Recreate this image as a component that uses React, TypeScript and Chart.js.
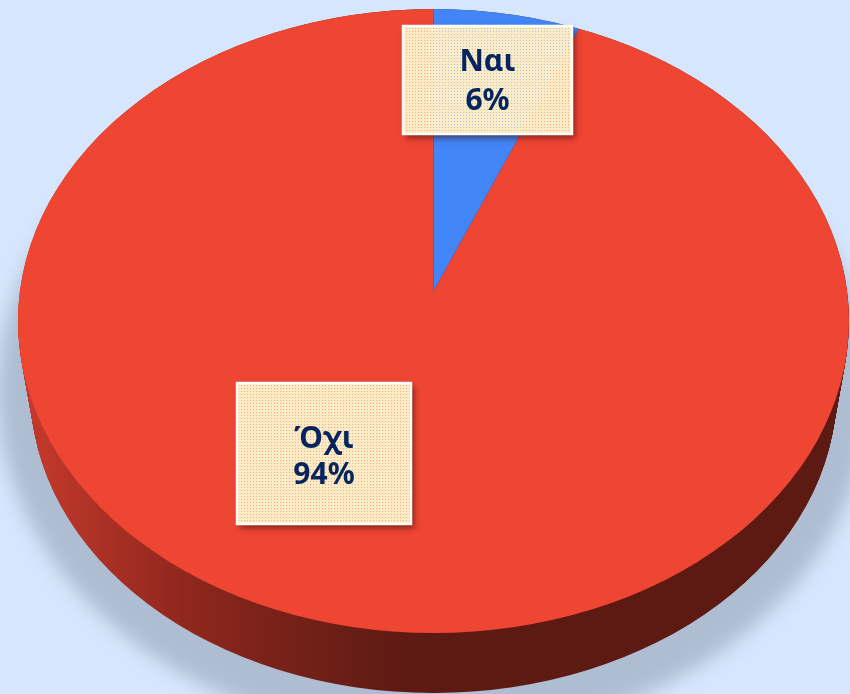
import React, { useEffect, useRef } from "react";
import { Chart, registerables } from "chart.js";

Chart.register(...registerables);

const categories = ["Ναι", "Όχι"];
const seriesValues = [6, 94];
const sliceColors = ["#4285f6", "#ef4533"];

const W = 850;
const H = 694;
const topFace = { x: 433.5, y: 321, rx: 415.5, ry: 312 };
const bottomFace = { x: 433.5, y: 391, rx: 403, ry: 302 };
const apex = { x: 433.5, y: 291, rx: 395, ry: 282, grow: 1.32 };
const labelBoxes = [
  { x: 403, y: 26, w: 169, h: 108, t1: 62, t2: 101 },
  { x: 237, y: 383, w: 174, h: 141, t1: 439, t2: 475 },
];

function ell(ctx: CanvasRenderingContext2D, e: { x: number; y: number; rx: number; ry: number }) {
  ctx.beginPath();
  ctx.ellipse(e.x, e.y, e.rx, e.ry, 0, 0, Math.PI * 2);
}

function makePattern(ctx: CanvasRenderingContext2D) {
  const c = document.createElement("canvas");
  c.width = 3;
  c.height = 3;
  const p = c.getContext("2d")!;
  p.fillStyle = "#fcecc6";
  p.fillRect(0, 0, 3, 3);
  p.clearRect(1, 1, 1, 1);
  p.fillStyle = "rgba(252,236,198,0.6)";
  p.fillRect(1, 1, 1, 1);
  return ctx.createPattern(c, "repeat")!;
}

const piePlugin = {
  id: "tiltedPie",
  beforeDatasetsDraw(chart: any) {
    const ctx: CanvasRenderingContext2D = chart.ctx;
    const arcs = chart.getDatasetMeta(0).data;

    // soft shadow under the disc
    ctx.save();
    ctx.filter = "blur(9px)";
    ctx.fillStyle = "#aebdd2";
    ell(ctx, { x: 433.5, y: 392, rx: 436, ry: 345 });
    ctx.fill();
    ctx.restore();

    // wall of the disc
    const g = ctx.createLinearGradient(20, 0, 850, 0);
    g.addColorStop(0, "#c73a2c");
    g.addColorStop(0.2, "#8f271d");
    g.addColorStop(0.33, "#742118");
    g.addColorStop(0.47, "#5c1a13");
    g.addColorStop(1, "#5c1a13");
    ctx.save();
    ctx.fillStyle = g;
    const steps = 70;
    for (let i = 0; i <= steps; i++) {
      const t = i / steps;
      ell(ctx, {
        x: topFace.x,
        y: topFace.y + (bottomFace.y - topFace.y) * t,
        rx: topFace.rx + (bottomFace.rx - topFace.rx) * t,
        ry: topFace.ry + (bottomFace.ry - topFace.ry) * t,
      });
      ctx.fill();
    }
    ctx.restore();

    // top face: library arcs under a tilt transform, clipped to the ellipse
    const a0 = arcs[0];
    const R = a0.outerRadius;
    ctx.save();
    ell(ctx, topFace);
    ctx.clip();
    ctx.translate(apex.x, apex.y);
    ctx.scale((apex.grow * apex.rx) / R, (apex.grow * apex.ry) / R);
    ctx.translate(-a0.x, -a0.y);
    arcs[1].draw(ctx);
    arcs[0].draw(ctx);
    ctx.restore();

    // label cards
    const pattern = makePattern(ctx);
    const total = seriesValues.reduce((s, v) => s + v, 0);
    labelBoxes.forEach((b, i) => {
      ctx.save();
      const clip = new Path2D();
      clip.rect(0, 0, W, H);
      clip.rect(b.x, b.y, b.w, b.h);
      ctx.clip(clip, "evenodd");
      ctx.shadowColor = "rgba(60,15,10,0.6)";
      ctx.shadowBlur = 6;
      ctx.shadowOffsetX = 3;
      ctx.shadowOffsetY = 4;
      ctx.fillStyle = "#fff";
      ctx.fillRect(b.x, b.y, b.w, b.h);
      ctx.restore();

      ctx.save();
      ctx.fillStyle = pattern;
      ctx.fillRect(b.x, b.y, b.w, b.h);
      ctx.strokeStyle = "#fffefa";
      ctx.lineWidth = 2.5;
      ctx.strokeRect(b.x, b.y, b.w, b.h);
      ctx.fillStyle = "#06255f";
      ctx.font = 'bold 30px "Noto Sans", sans-serif';
      ctx.textAlign = "center";
      ctx.textBaseline = "middle";
      const cx = b.x + b.w / 2;
      ctx.fillText(categories[i], cx, b.t1);
      ctx.fillText(`${Math.round((seriesValues[i] / total) * 100)}%`, cx, b.t2);
      ctx.restore();
    });
    return false;
  },
};

export default function App() {
  const ref = useRef<HTMLCanvasElement>(null);
  useEffect(() => {
    const chart = new Chart(ref.current!, {
      type: "pie",
      data: {
        labels: categories,
        datasets: [{ data: seriesValues, backgroundColor: sliceColors, borderWidth: 0 }],
      },
      options: {
        responsive: false,
        animation: false,
        devicePixelRatio: 1,
        layout: { padding: { top: 9, bottom: 61, left: 17, right: 0 } },
        plugins: { legend: { display: false }, tooltip: { enabled: false } },
      },
      plugins: [piePlugin],
    } as any);
    return () => chart.destroy();
  }, []);
  return (
    <div style={{ position: "absolute", left: 0, top: 0, width: W, height: H, background: "#d6e6fc", overflow: "hidden" }}>
      <canvas ref={ref} width={W} height={H} style={{ display: "block" }} />
    </div>
  );
}
